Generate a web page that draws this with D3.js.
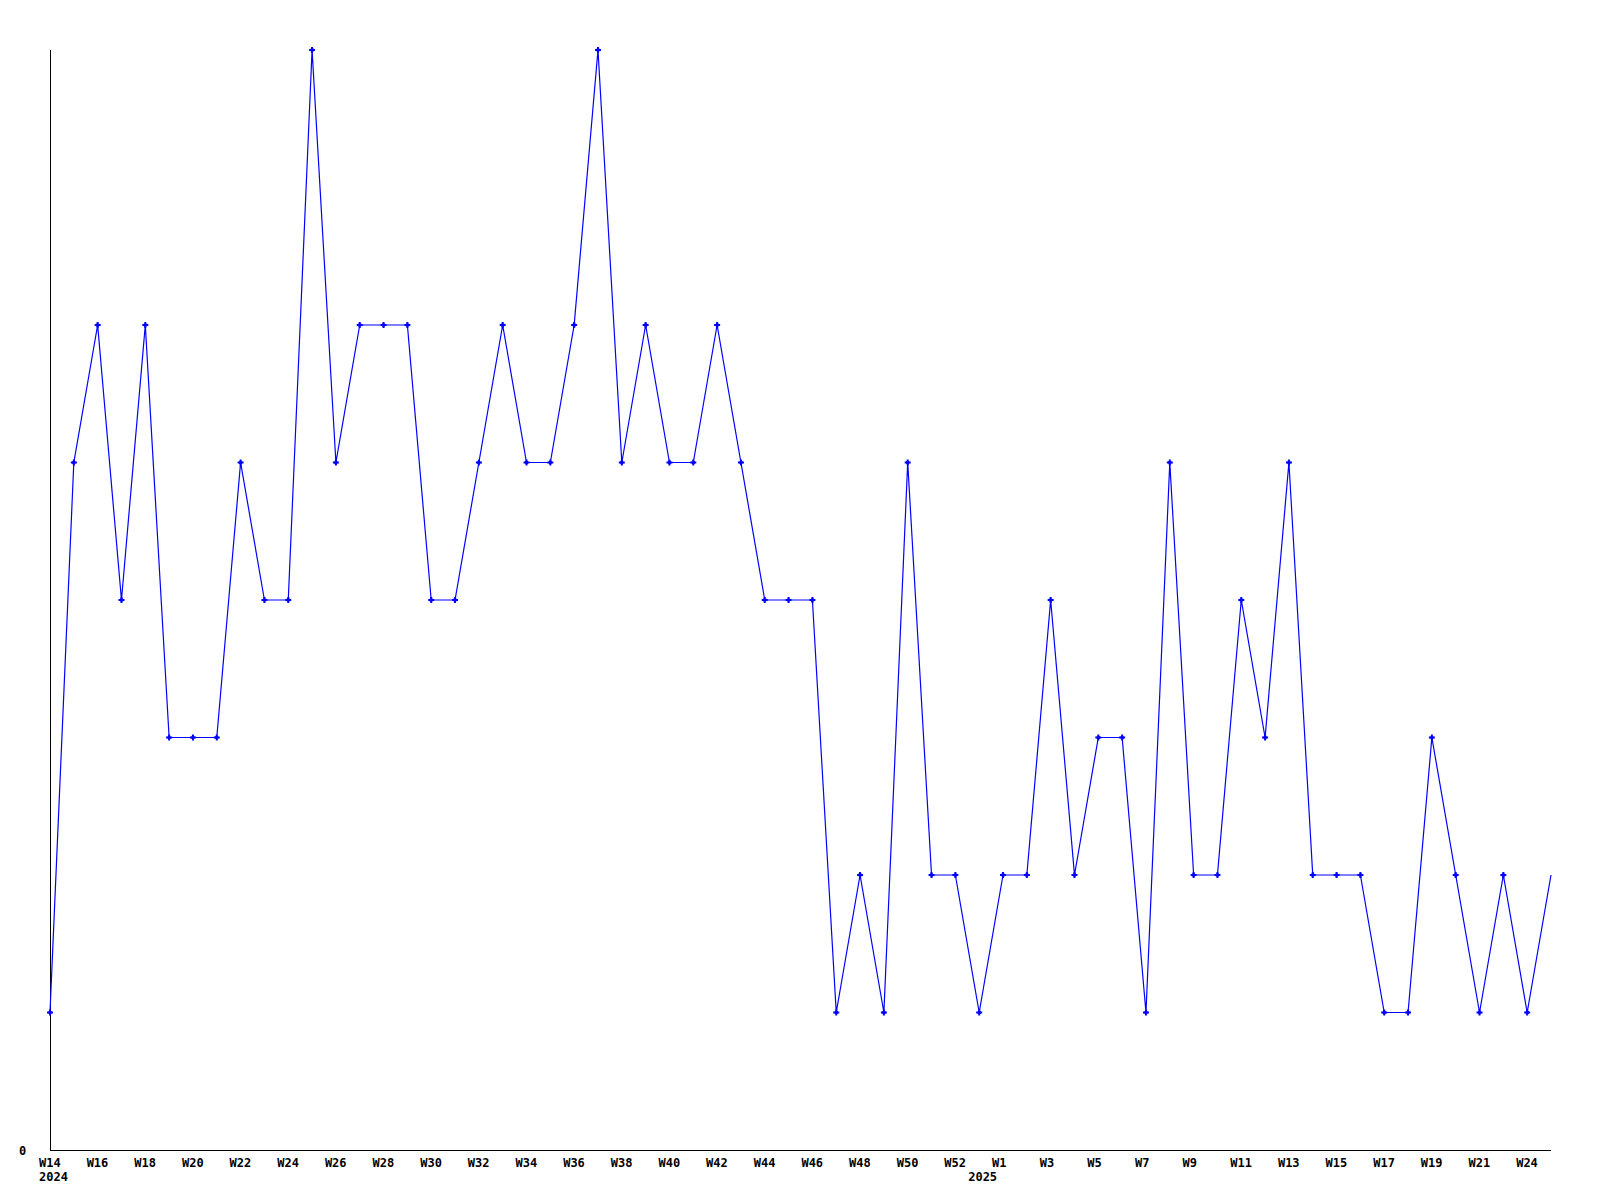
<!DOCTYPE html>
<html>
<head>
<meta charset="utf-8">
<script src="https://cdn.jsdelivr.net/npm/d3@7"></script>
<style>
  html, body { margin: 0; padding: 0; background: #ffffff; }
  svg { display: block; }
  text { font-family: "DejaVu Sans Mono", "Liberation Mono", monospace; font-weight: bold; font-size: 12px; fill: #000; }
</style>
</head>
<body>
<svg id="chart" width="1600" height="1200"></svg>
<script>
// ---- data ----
const values = [1,5,6,4,6,3,3,3,5,4,4,8,5,6,6,6,4,4,5,6,5,5,6,8,5,6,5,5,6,5,4,4,4,1,2,1,5,2,2,
                1,2,2,4,2,3,3,1,5,2,2,4,3,5,2,2,2,1,1,3,2,1,2,1,2];
const tickIndex = [0,2,4,6,8,10,12,14,16,18,20,22,24,26,28,30,32,34,36,38,40,42,44,46,48,50,52,54,56,58,60,62];
const tickText  = ["W14","W16","W18","W20","W22","W24","W26","W28","W30","W32","W34","W36","W38","W40","W42","W44",
                   "W46","W48","W50","W52","W1","W3","W5","W7","W9","W11","W13","W15","W17","W19","W21","W24"];
const yearIndex = [0,39];
const yearText  = ["2024","2025"];
const yTickValues = [0];
const yMax = 8;

// ---- layout ----
const svg = d3.select("#chart");
const plotLeft = 50, plotRight = 1551, plotTop = 50, plotBottom = 1150;

const x = d3.scaleLinear().domain([0, values.length - 1]).range([plotLeft, plotRight]);
const y = d3.scaleLinear().domain([0, yMax]).range([plotBottom, plotTop]);

// axes lines
svg.append("line").attr("x1", plotLeft + 0.5).attr("x2", plotLeft + 0.5).attr("y1", plotTop).attr("y2", plotBottom + 0.5)
  .attr("stroke", "#000").attr("stroke-width", 1).attr("shape-rendering", "crispEdges");
svg.append("line").attr("x1", plotLeft).attr("x2", plotRight).attr("y1", plotBottom + 0.5).attr("y2", plotBottom + 0.5)
  .attr("stroke", "#000").attr("stroke-width", 1).attr("shape-rendering", "crispEdges");

// y tick labels
svg.selectAll("text.ylab").data(yTickValues).enter().append("text")
  .attr("class", "ylab")
  .attr("x", 19)
  .attr("y", d => y(d) + 5)
  .text(d => d);

// x tick labels (left-aligned slightly before point)
svg.selectAll("text.xlab").data(tickIndex).enter().append("text")
  .attr("class", "xlab")
  .attr("x", d => x(d) - 11)
  .attr("y", 1167)
  .text((d, i) => tickText[i]);

svg.selectAll("text.year").data(yearIndex).enter().append("text")
  .attr("class", "year")
  .attr("x", d => x(d) - 11)
  .attr("y", 1181)
  .text((d, i) => yearText[i]);

// line
const line = d3.line().x((d, i) => x(i)).y(d => y(d));
svg.append("path").datum(values)
  .attr("d", line)
  .attr("fill", "none")
  .attr("stroke", "#0000ff")
  .attr("stroke-width", 1.2);

// markers (none on the last point)
const sym = d3.symbol().type(d3.symbolCross).size(20);
const sym2 = d3.symbol().type(d3.symbolSquare).size(9);
const mk = svg.selectAll("g.mk").data(values.slice(0, values.length - 1)).enter().append("g")
  .attr("class", "mk")
  .attr("transform", (d, i) => `translate(${x(i)},${y(d)})`);
mk.append("path").attr("d", sym).attr("fill", "#0000ff");
mk.append("path").attr("d", sym2).attr("fill", "#0000ff");
</script>
</body>
</html>
